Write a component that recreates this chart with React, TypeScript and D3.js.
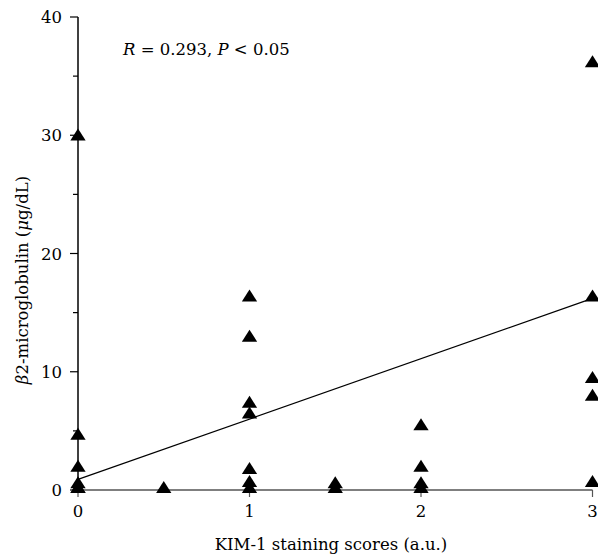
import React from "react";
import * as d3 from "d3";

const xs0 = [0, 0, 0, 0, 0, 0];
const ys0 = [29.8, 4.5, 1.8, 0.4, 0, 0];
const xs05 = [0.5];
const ys05 = [0];
const xs1 = [1, 1, 1, 1, 1, 1, 1];
const ys1 = [16.2, 12.8, 7.2, 6.3, 1.6, 0.5, 0];
const xs15 = [1.5, 1.5];
const ys15 = [0.4, 0];
const xs2 = [2, 2, 2, 2];
const ys2 = [5.3, 1.8, 0.4, 0];
const xs3 = [3, 3, 3, 3, 3];
const ys3 = [36, 16.2, 9.3, 7.8, 0.5];

const xTicks = [0, 1, 2, 3];
const yMajor = [0, 10, 20, 30, 40];
const yMinor = [5, 15, 25, 35];
const fitX = [0, 3];
const fitY = [0.9, 16.2];

export default function App() {
  const W = 598, H = 556;
  const x = d3.scaleLinear().domain([0, 3]).range([78, 592.5]);
  const y = d3.scaleLinear().domain([0, 40]).range([490, 17]);
  const pts: [number, number][] = [];
  const groups = [[xs0, ys0], [xs05, ys05], [xs1, ys1], [xs15, ys15], [xs2, ys2], [xs3, ys3]];
  groups.forEach(([gx, gy]) => gx.forEach((v, i) => pts.push([v, gy[i]])));
  const tri = d3.symbol().type(d3.symbolTriangle).size(92);
  const line = d3.line<number>().x((d) => x(fitX[d])).y((d) => y(fitY[d]));
  const font = "'DejaVu Serif', 'Liberation Serif', serif";
  const fs = 16.5;
  return (
    <svg width={W} height={H} style={{ position: "absolute", left: 0, top: 0 }} fontFamily={font}>
      <rect width={W} height={H} fill="#fff" />
      <line x1={x(0)} x2={x(0)} y1={y(0)} y2={y(40)} stroke="#000" strokeWidth={1.5} />
      <line x1={x(0)} x2={x(3)} y1={y(0)} y2={y(0)} stroke="#555" strokeWidth={1.5} />
      {yMajor.map((t) => (
        <g key={"ym" + t}>
          <line x1={x(0) - 8} x2={x(0)} y1={y(t)} y2={y(t)} stroke="#000" strokeWidth={1.2} />
          <text x={62} y={y(t) + 6} textAnchor="end" fontSize={fs}>{t}</text>
        </g>
      ))}
      {yMinor.map((t) => (
        <line key={"yn" + t} x1={x(0) - 5} x2={x(0)} y1={y(t)} y2={y(t)} stroke="#000" strokeWidth={1.2} />
      ))}
      {xTicks.map((t) => (
        <g key={"xt" + t}>
          <line x1={x(t)} x2={x(t)} y1={y(0)} y2={y(0) + 7} stroke="#555" strokeWidth={1.2} />
          <text x={x(t)} y={517} textAnchor="middle" fontSize={fs}>{t}</text>
        </g>
      ))}
      <path d={line([0, 1]) || ""} stroke="#000" strokeWidth={1.2} fill="none" />
      {pts.map(([px, py], i) => (
        <path key={i} d={tri() || ""} transform={`translate(${x(px)},${y(py) - 1}) scale(1.05,0.95)`} fill="#000" />
      ))}
      <text x={123} y={55} fontSize={fs}>
        <tspan fontStyle="italic">R</tspan> = 0.293, <tspan fontStyle="italic">P</tspan> &lt; 0.05
      </text>
      <text x={331} y={550} textAnchor="middle" fontSize={fs}>KIM-1 staining scores (a.u.)</text>
      <text transform="translate(28,280) rotate(-90)" textAnchor="middle" fontSize={fs}>
        <tspan fontStyle="italic">β</tspan>2-microglobulin (<tspan fontStyle="italic">μ</tspan>g/dL)
      </text>
    </svg>
  );
}
